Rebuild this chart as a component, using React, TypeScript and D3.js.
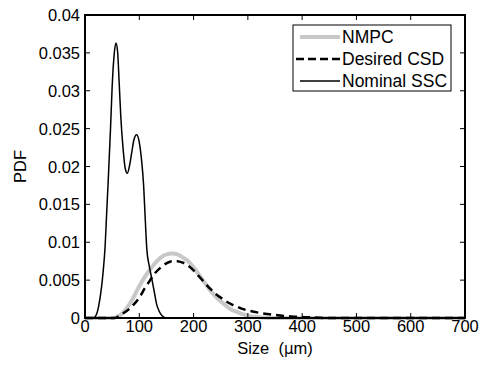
import * as d3 from "d3";

// size in µm, PDF values
const nmpcX = [0, 50, 60, 70, 80, 90, 100, 110, 120, 130, 140, 150, 160, 170, 180, 190, 200, 210, 220, 230, 240, 250, 260, 270, 280, 290, 300, 320, 340, 700];
const nmpcY = [0, 0, 0.0002, 0.0007, 0.0016, 0.0028, 0.0042, 0.0054, 0.0064, 0.0073, 0.008, 0.0084, 0.0085, 0.0084, 0.008, 0.0075, 0.0067, 0.0057, 0.0047, 0.0037, 0.0029, 0.0022, 0.0016, 0.0011, 0.0008, 0.0005, 0.0003, 0.0001, 0, 0];

const desiredX = [0, 55, 65, 80, 90, 100, 110, 120, 130, 140, 150, 160, 170, 180, 190, 200, 210, 220, 230, 240, 250, 260, 270, 280, 290, 300, 320, 350, 380, 410, 450, 700];
const desiredY = [0, 0, 0.0004, 0.0011, 0.0018, 0.0027, 0.0039, 0.005, 0.006, 0.0067, 0.0072, 0.0075, 0.0075, 0.0073, 0.0069, 0.0063, 0.0055, 0.0047, 0.0039, 0.0032, 0.0027, 0.0022, 0.0018, 0.0015, 0.0012, 0.001, 0.0007, 0.0004, 0.0002, 0.0001, 0, 0];

const nominalX = [0, 15, 20, 25, 30, 33, 37, 40, 43, 47, 50, 54, 57, 60, 63, 66, 70, 74, 78, 82, 86, 90, 95, 100, 104, 108, 111, 114, 118, 123, 128, 132, 136, 142, 150, 700];
const nominalY = [0, 0, 0.0003, 0.0015, 0.0038, 0.0058, 0.0094, 0.014, 0.0185, 0.025, 0.0305, 0.035, 0.0363, 0.0352, 0.031, 0.0265, 0.0225, 0.0198, 0.0191, 0.0201, 0.0218, 0.0235, 0.0242, 0.0232, 0.021, 0.0175, 0.013, 0.009, 0.007, 0.0052, 0.0033, 0.0018, 0.001, 0.0003, 0, 0];

const xTicks = [0, 100, 200, 300, 400, 500, 600, 700];
const yTicks = [0, 0.005, 0.01, 0.015, 0.02, 0.025, 0.03, 0.035, 0.04];
const yTickLabels = ["0", "0.005", "0.01", "0.015", "0.02", "0.025", "0.03", "0.035", "0.04"];

const W = 485;
const H = 370;
const left = 85, right = 465, top = 15, bottom = 318;
const font = "Liberation Sans, Arial, sans-serif";

export default function App() {
  const x = d3.scaleLinear().domain([0, 700]).range([left, right]);
  const y = d3.scaleLinear().domain([0, 0.04]).range([bottom, top]);

  const line = d3
    .line<[number, number]>()
    .x((d) => x(d[0]))
    .y((d) => y(d[1]))
    .curve(d3.curveMonotoneX);

  const zip = (xs: number[], ys: number[]) => xs.map((v, i) => [v, ys[i]] as [number, number]);

  const tick = 5;

  return (
    <svg width={W} height={H} style={{ position: "absolute", left: 0, top: 0, background: "#fff" }} fontFamily={font}>
      <rect x={0} y={0} width={W} height={H} fill="#fff" />

      <path d={line(zip(nmpcX, nmpcY)) ?? ""} fill="none" stroke="#c8c8c8" strokeWidth={4} />
      <path d={line(zip(desiredX, desiredY)) ?? ""} fill="none" stroke="#000" strokeWidth={2.5} strokeDasharray="8,5" />
      <path d={line(zip(nominalX, nominalY)) ?? ""} fill="none" stroke="#000" strokeWidth={1.5} />

      {/* ticks, inside, on all four sides */}
      {xTicks.map((t) => (
        <g key={"xt" + t}>
          <line x1={x(t)} x2={x(t)} y1={bottom} y2={bottom - tick} stroke="#000" strokeWidth={1} />
          <line x1={x(t)} x2={x(t)} y1={top} y2={top + tick} stroke="#000" strokeWidth={1} />
          <text x={x(t)} y={bottom + 14} fontSize={16.5} textAnchor="middle">
            {t}
          </text>
        </g>
      ))}
      {yTicks.map((t, i) => (
        <g key={"yt" + t}>
          <line x1={left} x2={left + tick} y1={y(t)} y2={y(t)} stroke="#000" strokeWidth={1} />
          <line x1={right} x2={right - tick} y1={y(t)} y2={y(t)} stroke="#000" strokeWidth={1} />
          <text x={left - 5} y={y(t) + 6} fontSize={16.5} textAnchor="end">
            {yTickLabels[i]}
          </text>
        </g>
      ))}

      <rect x={left} y={top} width={right - left} height={bottom - top} fill="none" stroke="#000" strokeWidth={2} />

      {/* legend */}
      <g>
        <rect x={293} y={25} width={158} height={66} fill="#fff" stroke="#000" strokeWidth={1} />
        <line x1={300} x2={340} y1={37} y2={37} stroke="#c8c8c8" strokeWidth={4} />
        <text x={342} y={43} fontSize={17.5}>NMPC</text>
        <line x1={296} x2={340} y1={59} y2={59} stroke="#000" strokeWidth={2.5} strokeDasharray="8,4" />
        <text x={342} y={65} fontSize={17.5}>Desired CSD</text>
        <line x1={300} x2={340} y1={81} y2={81} stroke="#000" strokeWidth={1.5} />
        <text x={342} y={87} fontSize={17.5}>Nominal SSC</text>
      </g>

      <text x={(left + right) / 2} y={354} fontSize={16.5} textAnchor="middle">
        Size {"\u00a0"}(<tspan fontFamily="DejaVu Sans, sans-serif" fontSize={15}>μ</tspan>m)
      </text>
      <text transform={`translate(26, ${(top + bottom) / 2}) rotate(-90)`} fontSize={16.5} textAnchor="middle">
        PDF
      </text>
    </svg>
  );
}
